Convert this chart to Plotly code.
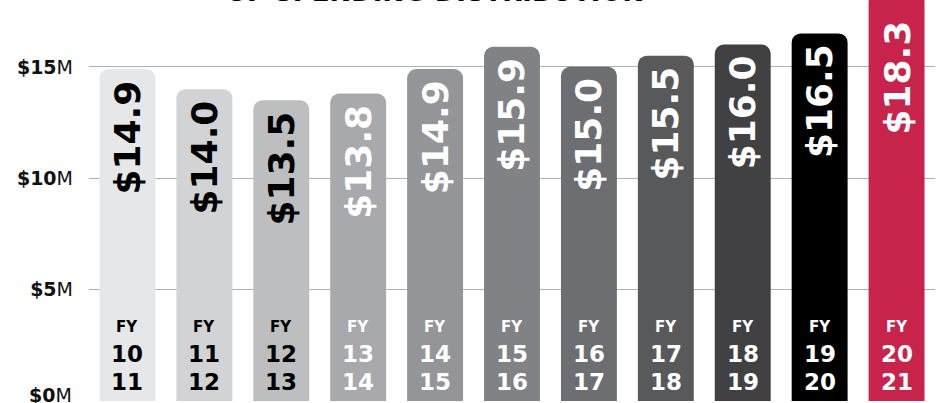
import plotly.graph_objects as go

# ---- data ----
categories = ["FY 10-11", "FY 11-12", "FY 12-13", "FY 13-14", "FY 14-15", "FY 15-16",
              "FY 16-17", "FY 17-18", "FY 18-19", "FY 19-20", "FY 20-21"]
fy_top = ["10", "11", "12", "13", "14", "15", "16", "17", "18", "19", "20"]
fy_bottom = ["11", "12", "13", "14", "15", "16", "17", "18", "19", "20", "21"]
values = [14.9, 14.0, 13.5, 13.8, 14.9, 15.9, 15.0, 15.5, 16.0, 16.5, 18.3]
value_labels = ["$14.9", "$14.0", "$13.5", "$13.8", "$14.9", "$15.9", "$15.0",
                "$15.5", "$16.0", "$16.5", "$18.3"]
bar_colors = ["#e6e7e8", "#d1d3d4", "#bcbec0", "#a7a9ac", "#939598", "#808285",
              "#6d6e71", "#58595b", "#414042", "#000000", "#c8234a"]
text_colors = ["#000000"] * 3 + ["#ffffff"] * 8
y_tickvals = [5, 10, 15]
y_ticktext = ["<b>$5</b>M", "<b>$10</b>M", "<b>$15</b>M"]
y_zero_label = "<b>$0</b>M"
title_text = "UF SPENDING DISTRIBUTION"

FONT = "DejaVu Sans"
YMIN, YMAX = -0.04, 18

fig = go.Figure()
fig.add_trace(go.Bar(
    x=categories, y=values,
    marker=dict(color=bar_colors, line=dict(width=0), cornerradius=9),
    hoverinfo="skip",
))

annotations = []
for cat, v, lab, tc, a, b in zip(categories, values, value_labels, text_colors, fy_top, fy_bottom):
    inside = v <= YMAX
    annotations.append(dict(
        x=cat, y=min(v, YMAX), xref="x", yref="y", text=lab, showarrow=False,
        textangle=-90, yanchor="top", xanchor="center",
        yshift=-9 if inside else -19,
        font=dict(family=FONT, size=36, color=tc, weight="bold"),
    ))
    annotations.append(dict(
        x=cat, y=0, xref="x", yref="y", text="FY", showarrow=False,
        yanchor="middle", xanchor="center", yshift=74,
        font=dict(family=FONT, size=15, color=tc, weight="bold"),
    ))
    annotations.append(dict(
        x=cat, y=0, xref="x", yref="y", text=a, showarrow=False,
        yanchor="middle", xanchor="center", yshift=47,
        font=dict(family=FONT, size=23, color=tc, weight="bold"),
    ))
    annotations.append(dict(
        x=cat, y=0, xref="x", yref="y", text=b, showarrow=False,
        yanchor="middle", xanchor="center", yshift=19,
        font=dict(family=FONT, size=23, color=tc, weight="bold"),
    ))

# zero tick label, lifted slightly so it stays inside the picture
annotations.append(dict(
    x=0, y=0, xref="paper", yref="y", text=y_zero_label, showarrow=False,
    xanchor="right", yanchor="middle", xshift=-15, yshift=6,
    font=dict(family=FONT, size=19, color="#111111"),
))

annotations.append(dict(
    x=0.409, y=1, xref="paper", yref="paper", text=title_text, showarrow=False,
    xanchor="center", yanchor="bottom", yshift=-9,
    font=dict(family=FONT, size=26, color="#000000", weight="bold"),
))

fig.update_layout(
    width=940, height=403,
    margin=dict(l=88.5, r=4.5, t=0, b=0.7, pad=0, autoexpand=False),
    paper_bgcolor="white", plot_bgcolor="white",
    bargap=0.273,
    showlegend=False,
    annotations=annotations,
    xaxis=dict(visible=False, range=[-0.5, 10.5], fixedrange=True, automargin=False),
    yaxis=dict(
        range=[YMIN, YMAX], tickvals=y_tickvals, ticktext=y_ticktext,
        showgrid=True, gridcolor="#aab2bd", gridwidth=1,
        zeroline=False, showline=False, ticks="",
        ticklabelstandoff=15, automargin=False, ticklabeloverflow="allow",
        tickfont=dict(family=FONT, size=19, color="#111111"),
        fixedrange=True,
    ),
)

fig.write_html(
    "out.html",
    config={"displayModeBar": False},
    post_script="document.body.style.margin='0';document.body.style.overflow='hidden';",
)
